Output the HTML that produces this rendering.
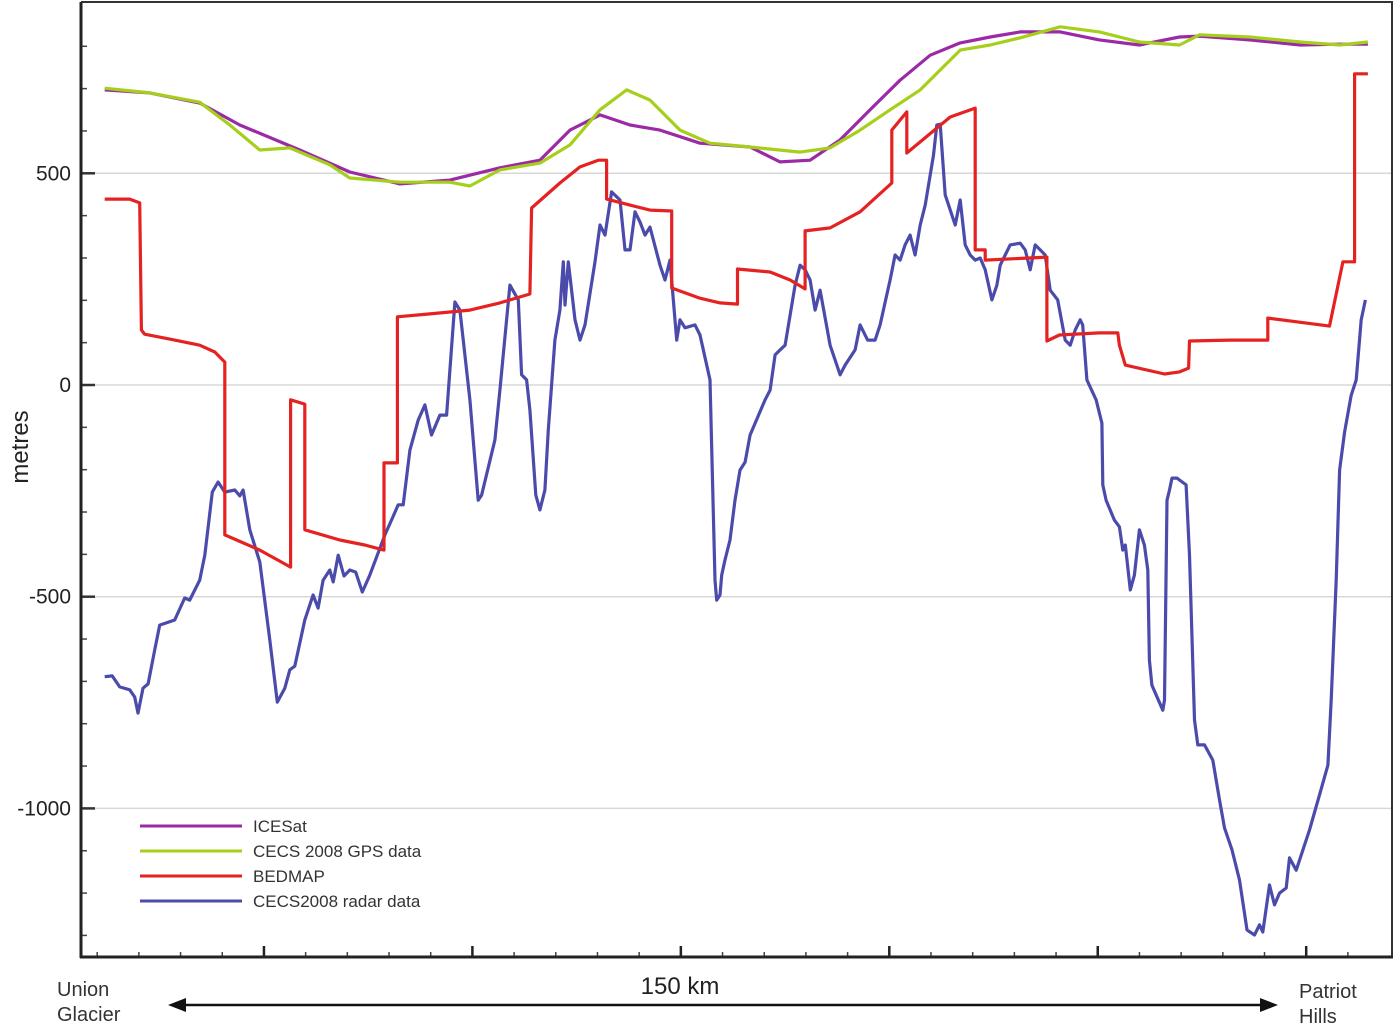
<!DOCTYPE html>
<html><head><meta charset="utf-8"><style>
html,body{margin:0;padding:0;background:#fff;}
svg{display:block;font-family:"Liberation Sans",Arial,sans-serif;}
</style></head><body>
<svg id="chart" width="1400" height="1028" viewBox="0 0 1400 1028" xmlns="http://www.w3.org/2000/svg">
<g id="grid"></g>
<g id="series"></g>
<g id="axes"></g>
<g id="legend"></g>
<text x="28" y="447" font-size="24" fill="#222" text-anchor="middle" transform="rotate(-90 28 447)">metres</text>
<text x="57" y="996" font-size="20" fill="#333">Union</text>
<text x="57" y="1021" font-size="20" fill="#333">Glacier</text>
<text x="1299" y="998" font-size="20" fill="#333">Patriot</text>
<text x="1299" y="1023" font-size="20" fill="#333">Hills</text>
<text x="680" y="994" font-size="24" fill="#222" text-anchor="middle">150 km</text>
<g>
<line x1="180" y1="1005" x2="1266" y2="1005" stroke="#111" stroke-width="2.5"/>
<polygon points="168,1005 186,998 186,1012" fill="#111"/>
<polygon points="1278,1005 1260,998 1260,1012" fill="#111"/>
</g>
</svg>
<script>
const NS='http://www.w3.org/2000/svg';
// y ticks (metres)
const yTicks=[500,0,-500,-1000];
const yMinor=[800,700,600,400,300,200,100,-100,-200,-300,-400,-600,-700,-800,-900,-1100,-1200,-1300];
const xMajorKm=[25,50,75,100,125,150];
const xMinorKm=[5,10,15,20,30,35,40,45,55,60,65,70,80,85,90,95,105,110,115,120,130,135,140,145,155];
// series data: km along profile, metres elevation
const iceKm=[5.9,11.3,17.3,22.1,29.3,35.3,41.3,47.3,53.3,58.1,61.7,65.3,68.9,72.5,77.3,83.3,86.9,90.5,94.1,97.7,101.3,104.9,108.5,112.1,115.7,120.5,125.2,130.0,134.8,137.2,143.2,149.3,154.0,157.4];
const iceM=[697,690,666,614,555,503,475,484,513,531,602,638,614,602,571,562,527,531,579,650,720,779,808,822,834,834,815,803,822,824,815,803,805,805];
const gpsKm=[5.9,11.3,17.3,20.9,24.5,28.1,32.9,35.3,41.3,47.3,49.7,53.3,58.1,61.7,65.3,68.5,71.3,74.9,78.5,83.3,89.3,92.9,96.5,100.1,103.7,108.5,112.1,115.7,120.5,125.2,130.0,134.8,137.2,143.2,149.3,154.0,157.4];
const gpsM=[701,690,668,614,555,560,520,489,479,479,470,508,524,567,650,697,673,602,571,562,550,560,602,650,697,791,803,820,846,834,810,803,827,822,810,803,810];
const bedKm=[5.9,8.9,10.1,10.3,10.7,14.3,17.3,19.1,20.3,20.3,24.5,28.2,28.2,29.9,29.9,34.1,37.1,39.4,39.4,41.0,41.0,44.9,49.7,53.3,56.9,57.1,60.5,62.9,65.1,66.1,66.1,68.9,71.3,73.9,73.9,77.3,79.7,81.8,81.8,85.7,88.1,89.9,89.9,92.9,96.5,100.3,100.3,102.1,102.1,107.3,110.3,110.3,111.5,111.5,118.9,118.9,120.4,125.2,127.4,127.6,128.3,133.0,134.8,135.9,136.0,140.8,145.4,145.4,152.8,154.4,155.8,155.8,157.4];
const bedM=[439,439,430,130,120,106,94,78,54,-354,-390,-430,-35,-45,-342,-366,-378,-390,-184,-184,161,168,177,194,215,418,477,515,531,531,439,425,413,411,229,205,194,191,274,267,248,227,364,371,409,477,602,645,548,633,654,319,319,295,302,104,118,123,123,94,47,26,31,40,104,106,106,158,139,291,291,735,735];
const radKm=[5.9,6.8,7.7,8.9,9.5,9.9,10.5,11.1,11.9,12.5,14.3,15.5,16.1,17.3,17.9,18.8,19.5,20.3,21.5,22.1,22.5,23.3,24.5,25.7,26.6,27.5,28.1,28.7,29.9,30.9,31.5,32.1,32.9,33.3,33.9,34.6,35.3,36.0,36.8,37.7,39.5,40.3,41.1,41.7,42.5,43.5,44.3,45.1,46.1,46.9,47.9,48.5,49.7,50.7,51.1,52.7,53.3,54.5,55.5,55.9,56.5,56.9,57.6,58.1,58.7,59.1,59.9,60.5,60.9,61.1,61.5,62.3,62.9,63.5,64.7,65.3,65.9,66.7,67.7,68.3,68.9,69.5,70.1,70.7,71.3,72.5,73.1,73.7,74.5,74.9,75.5,76.7,77.3,78.5,79.1,79.3,79.7,79.9,80.3,80.9,81.5,82.1,82.7,83.3,85.1,85.7,86.3,86.9,87.5,88.7,89.3,89.9,90.5,91.1,91.7,92.9,94.1,94.7,95.9,96.5,97.4,98.3,98.9,100.1,100.7,101.3,101.9,102.5,103.1,103.7,104.3,104.9,105.3,105.7,106.1,106.7,107.9,108.5,109.1,109.7,110.3,110.9,111.5,112.3,112.9,113.3,113.9,114.5,115.7,116.3,116.9,117.5,118.1,118.7,119.3,120.2,121.1,121.7,122.3,122.9,123.2,123.7,124.8,125.5,125.6,126.0,127.0,127.6,128.0,128.3,128.9,129.4,130.0,130.6,131.0,131.2,131.5,132.8,133.0,133.3,133.6,133.9,134.5,135.6,136.0,136.6,137.0,137.8,138.8,139.6,140.2,141.1,142.0,142.9,143.8,144.4,144.8,145.6,146.2,146.8,147.6,148.0,148.8,150.4,151.6,152.6,153.0,153.6,154.0,154.6,155.4,156.0,156.6,157.1];
const radM=[-689,-687,-713,-720,-737,-775,-716,-706,-626,-567,-555,-503,-508,-461,-402,-253,-229,-253,-248,-262,-248,-342,-418,-602,-749,-716,-673,-664,-555,-496,-527,-461,-437,-465,-402,-451,-437,-442,-489,-449,-354,-319,-283,-283,-154,-83,-47,-118,-71,-71,196,177,-35,-272,-260,-130,-12,236,201,24,12,-59,-260,-295,-248,-106,106,177,291,189,291,154,106,142,291,378,354,456,437,319,319,409,385,354,373,283,248,295,106,154,135,142,118,12,-461,-508,-496,-449,-413,-366,-272,-201,-182,-118,-35,-12,71,83,94,236,283,272,248,177,224,94,24,47,83,142,106,106,142,248,307,295,331,354,307,378,425,496,543,614,616,449,378,437,331,307,295,300,272,201,236,283,307,331,335,319,272,331,319,307,224,201,106,94,130,154,142,12,-35,-90,-236,-272,-319,-335,-390,-378,-484,-449,-342,-378,-437,-650,-709,-768,-744,-272,-248,-220,-220,-236,-402,-791,-850,-850,-886,-980,-1046,-1098,-1169,-1287,-1299,-1275,-1292,-1181,-1228,-1200,-1188,-1117,-1146,-1051,-968,-898,-744,-461,-201,-111,-24,12,154,201];

const L=81,R=1392,T=2,B=957;
function xS(km){return 55.5+km*8.338;}
function yS(m){return 385-m*0.4234;}
function mk(tag,attrs,parent){const e=document.createElementNS(NS,tag);for(const k in attrs)e.setAttribute(k,attrs[k]);parent.appendChild(e);return e;}
const grid=document.getElementById('grid'),axes=document.getElementById('axes'),ser=document.getElementById('series'),leg=document.getElementById('legend');

yTicks.forEach(v=>{
  const g=mk('line',{x1:L,x2:R,y1:yS(v),y2:yS(v),stroke:'#d8d8d8','stroke-width':1.5},grid);
  
  
  const t=mk('line',{x1:L,x2:L+14,y1:yS(v),y2:yS(v),stroke:'#333','stroke-width':2.5},axes);
  
  
  const lb=mk('text',{x:71,y:yS(v)+7,'font-size':21,'text-anchor':'end',fill:'#222'},axes);
  lb.textContent=String(v);
  
  
});
yMinor.forEach(v=>{
  const t=mk('line',{x1:L,x2:L+6,y1:yS(v),y2:yS(v),stroke:'#444','stroke-width':1.5},axes);
  
  
});
xMajorKm.forEach(k=>{
  const t=mk('line',{x1:xS(k),x2:xS(k),y1:B,y2:B-11,stroke:'#222','stroke-width':2.5},axes);
  
  
});
xMinorKm.forEach(k=>{
  const t=mk('line',{x1:xS(k),x2:xS(k),y1:B,y2:B-5,stroke:'#444','stroke-width':1.5},axes);
  
  
});
const fr=mk('path',{d:`M${L},${T} L${R},${T} L${R},${B}`,fill:'none',stroke:'#333','stroke-width':2},axes);


const la=mk('line',{x1:L,x2:L,y1:T,y2:B+1,stroke:'#222','stroke-width':3},axes);


const ba=mk('line',{x1:L-1,x2:R+1,y1:B,y2:B,stroke:'#222','stroke-width':3},axes);



function line(xs,ys,color,name){
  const d=xs.map((k,i)=>(i?'L':'M')+xS(k).toFixed(1)+','+yS(ys[i]).toFixed(1)).join(' ');
  const p=mk('path',{d:d,fill:'none',stroke:color,'stroke-width':3.2,'stroke-linejoin':'round'},ser);
  
  
}
const cRad='#4b4bab',cBed='#e52222',cIce='#9a2aa6',cGps='#a6cf1c';
line(radKm,radM,cRad,'radar-line');
line(bedKm,bedM,cBed,'bedmap-line');
line(iceKm,iceM,cIce,'icesat-line');
line(gpsKm,gpsM,cGps,'gps-line');

const legNames=['ICESat','CECS 2008 GPS data','BEDMAP','CECS2008 radar data'];
const legColors=[cIce,cGps,cBed,cRad];
legNames.forEach((n,i)=>{
  const y=826+i*25;
  const g=mk('g',{},leg);
  
  
  mk('line',{x1:140,x2:242,y1:y,y2:y,stroke:legColors[i],'stroke-width':3},g);
  const t=mk('text',{x:253,y:y+6,'font-size':17,fill:'#333'},g);
  t.textContent=n;
});
</script>
</body></html>
